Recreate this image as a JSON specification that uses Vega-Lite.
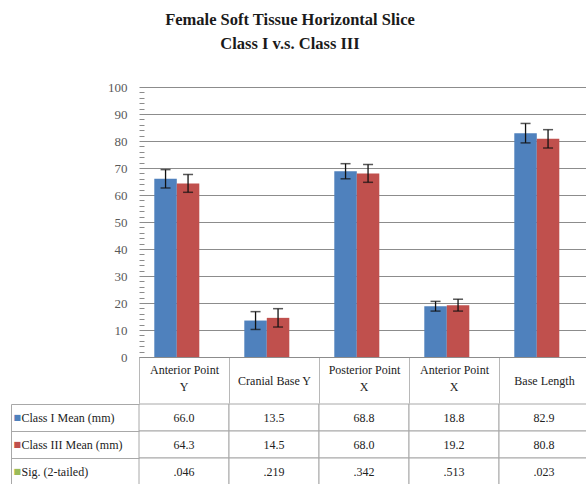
{
  "$schema": "https://vega.github.io/schema/vega-lite/v6.json",
  "background": "white",
  "padding": {"left": 10, "top": 11, "right": 0, "bottom": 0},
  "config": {"view": {"stroke": null}},
  "title": {
    "text": ["Female Soft Tissue Horizontal Slice", "Class I v.s. Class III"],
    "font": "Liberation Serif", "fontSize": 16.5, "fontWeight": "bold", "color": "#1a1a1a",
    "lineHeight": 24, "anchor": "middle", "dx": -10, "offset": 29
  },
  "datasets": {
    "bars": [
      {"measure": "Anterior Point Y", "group": "Class I Mean (mm)", "mean": 66.0, "lo": 62.6, "hi": 69.4},
      {"measure": "Anterior Point Y", "group": "Class III Mean (mm)", "mean": 64.3, "lo": 61.0, "hi": 67.6},
      {"measure": "Cranial Base Y", "group": "Class I Mean (mm)", "mean": 13.5, "lo": 10.2, "hi": 16.8},
      {"measure": "Cranial Base Y", "group": "Class III Mean (mm)", "mean": 14.5, "lo": 11.1, "hi": 17.9},
      {"measure": "Posterior Point X", "group": "Class I Mean (mm)", "mean": 68.8, "lo": 66.0, "hi": 71.6},
      {"measure": "Posterior Point X", "group": "Class III Mean (mm)", "mean": 68.0, "lo": 64.7, "hi": 71.3},
      {"measure": "Anterior Point X", "group": "Class I Mean (mm)", "mean": 18.8, "lo": 17.0, "hi": 20.6},
      {"measure": "Anterior Point X", "group": "Class III Mean (mm)", "mean": 19.2, "lo": 17.0, "hi": 21.4},
      {"measure": "Base Length", "group": "Class I Mean (mm)", "mean": 82.9, "lo": 79.3, "hi": 86.5},
      {"measure": "Base Length", "group": "Class III Mean (mm)", "mean": 80.8, "lo": 77.4, "hi": 84.2}
    ],
    "table": [
      {"measure": "Anterior Point Y", "row": "Class I Mean (mm)", "value": "66.0"},
      {"measure": "Cranial Base Y", "row": "Class I Mean (mm)", "value": "13.5"},
      {"measure": "Posterior Point X", "row": "Class I Mean (mm)", "value": "68.8"},
      {"measure": "Anterior Point X", "row": "Class I Mean (mm)", "value": "18.8"},
      {"measure": "Base Length", "row": "Class I Mean (mm)", "value": "82.9"},
      {"measure": "Anterior Point Y", "row": "Class III Mean (mm)", "value": "64.3"},
      {"measure": "Cranial Base Y", "row": "Class III Mean (mm)", "value": "14.5"},
      {"measure": "Posterior Point X", "row": "Class III Mean (mm)", "value": "68.0"},
      {"measure": "Anterior Point X", "row": "Class III Mean (mm)", "value": "19.2"},
      {"measure": "Base Length", "row": "Class III Mean (mm)", "value": "80.8"},
      {"measure": "Anterior Point Y", "row": "Sig. (2-tailed)", "value": ".046"},
      {"measure": "Cranial Base Y", "row": "Sig. (2-tailed)", "value": ".219"},
      {"measure": "Posterior Point X", "row": "Sig. (2-tailed)", "value": ".342"},
      {"measure": "Anterior Point X", "row": "Sig. (2-tailed)", "value": ".513"},
      {"measure": "Base Length", "row": "Sig. (2-tailed)", "value": ".023"}
    ]
  },
  "spacing": -7,
  "vconcat": [
    {
      "width": 450,
      "height": 270,
      "data": {"name": "bars"},
      "resolve": {"axis": {"y": "independent", "x": "independent"}},
      "encoding": {
        "xOffset": {
          "field": "group", "type": "nominal",
          "sort": ["Class I Mean (mm)", "Class III Mean (mm)"],
          "scale": {"paddingInner": 0, "paddingOuter": 1.25, "align": 0.34}
        }
      },
      "layer": [
        {
          "mark": {"type": "bar"},
          "encoding": {
            "x": {
              "field": "measure", "type": "nominal",
              "sort": ["Anterior Point Y", "Cranial Base Y", "Posterior Point X", "Anterior Point X", "Base Length"],
              "scale": {"paddingInner": 0, "paddingOuter": 0},
              "axis": {
                "orient": "bottom", "title": null, "domain": true, "domainColor": "#8c8c8c",
                "ticks": true, "tickBand": "extent", "tickSize": 46, "tickColor": "#b8b8b8",
                "labelAngle": 0, "labelFont": "Liberation Serif", "labelFontSize": 12, "labelColor": "#222222",
                "labelPadding": -23, "labelLineHeight": 20,
                "labelBaseline": {"condition": {"test": "datum.value === 'Anterior Point Y' || datum.value === 'Posterior Point X' || datum.value === 'Anterior Point X'", "value": "line-bottom"}, "value": "middle"},
                "labelExpr": "datum.value === 'Anterior Point Y' || datum.value === 'Anterior Point X' ? 'Anterior Point' : datum.value === 'Posterior Point X' ? 'Posterior Point' : datum.label"
              }
            },
            "y": {
              "field": "mean", "type": "quantitative",
              "scale": {"domain": [0, 100], "nice": false},
              "axis": {
                "orient": "left", "title": null, "minExtent": 128, "maxExtent": 128,
                "values": [0,10,20,30,40,50,60,70,80,90,100],
                "labelFont": "Liberation Serif", "labelFontSize": 13, "labelColor": "#595959",
                "labelPadding": 12,
                "domain": false,
                "grid": true, "gridColor": "#8c8c8c",
                "ticks": false
              }
            },
            "color": {
              "field": "group", "type": "nominal",
              "scale": {"domain": ["Class I Mean (mm)", "Class III Mean (mm)", "Sig. (2-tailed)"], "range": ["#4F81BD", "#C0504D", "#9BBB59"]},
              "legend": null
            }
          }
        },
        {
          "mark": {"type": "rule", "color": "#111111", "strokeWidth": 1.3},
          "encoding": {
            "x": {
              "field": "measure", "type": "nominal",
              "sort": ["Anterior Point Y", "Cranial Base Y", "Posterior Point X", "Anterior Point X", "Base Length"],
              "axis": {
                "orient": "bottom", "title": null, "domain": false, "ticks": false,
                "labelAngle": 0, "labelFont": "Liberation Serif", "labelFontSize": 12, "labelColor": "#222222",
                "labelPadding": 24, "labelBaseline": "top",
                "labelExpr": "datum.value === 'Anterior Point Y' ? 'Y' : (datum.value === 'Posterior Point X' || datum.value === 'Anterior Point X') ? 'X' : ''"
              }
            },
            "y": {
              "field": "lo", "type": "quantitative",
              "axis": {
                "orient": "left", "title": null, "minExtent": 0, "maxExtent": 0,
                "values": [2,4,6,8,12,14,16,18,22,24,26,28,32,34,36,38,42,44,46,48,52,54,56,58,62,64,66,68,72,74,76,78,82,84,86,88,92,94,96,98],
                "labels": false, "domain": false, "grid": false,
                "ticks": true, "tickSize": -5, "tickColor": "#8c8c8c"
              }
            },
            "y2": {"field": "hi"}
          }
        },
        {
          "mark": {"type": "tick", "color": "#111111", "size": 10, "thickness": 1.5},
          "encoding": {
            "x": {"field": "measure", "type": "nominal", "sort": ["Anterior Point Y", "Cranial Base Y", "Posterior Point X", "Anterior Point X", "Base Length"], "axis": null},
            "y": {"field": "lo", "type": "quantitative", "axis": null}
          }
        },
        {
          "mark": {"type": "tick", "color": "#111111", "size": 10, "thickness": 1.5},
          "encoding": {
            "x": {"field": "measure", "type": "nominal", "sort": ["Anterior Point Y", "Cranial Base Y", "Posterior Point X", "Anterior Point X", "Base Length"], "axis": null},
            "y": {"field": "hi", "type": "quantitative", "axis": null}
          }
        }
      ]
    },
    {
      "width": 450,
      "height": 81,
      "data": {"name": "table"},
      "resolve": {"axis": {"y": "independent"}},
      "encoding": {
        "x": {
          "field": "measure", "type": "nominal",
          "sort": ["Anterior Point Y", "Cranial Base Y", "Posterior Point X", "Anterior Point X", "Base Length"],
          "scale": {"paddingInner": 0, "paddingOuter": 0},
          "axis": null
        }
      },
      "layer": [
        {
          "mark": {"type": "rect", "fill": "white", "stroke": "#a8a8a8", "strokeWidth": 1},
          "encoding": {
            "y": {
              "field": "row", "type": "nominal",
              "sort": ["Class I Mean (mm)", "Class III Mean (mm)", "Sig. (2-tailed)"],
              "scale": {"paddingInner": 0, "paddingOuter": 0},
              "axis": {
                "orient": "left", "title": null, "domain": false, "grid": false,
                "ticks": true, "tickBand": "extent", "tickSize": 128, "tickColor": "#a8a8a8",
                "labelAlign": "left", "labelBaseline": "middle", "labelPadding": -10,
                "labelFont": "Liberation Serif", "labelFontSize": 12, "labelColor": "#222222",
                "minExtent": 128, "maxExtent": 128
              }
            }
          }
        },
        {
          "mark": {"type": "text", "font": "Liberation Serif", "fontSize": 12, "color": "#222222"},
          "encoding": {
            "y": {
              "field": "row", "type": "nominal",
              "sort": ["Class I Mean (mm)", "Class III Mean (mm)", "Sig. (2-tailed)"],
              "axis": {
                "orient": "left", "title": null, "grid": false, "ticks": false,
                "domain": true, "domainColor": "#a8a8a8", "offset": 128,
                "labelExpr": "'■'",
                "labelAlign": "left", "labelBaseline": "middle", "labelPadding": -2,
                "labelFont": "DejaVu Sans", "labelFontSize": 8,
                "labelColor": {"condition": [
                  {"test": "datum.value === 'Class I Mean (mm)'", "value": "#4F81BD"},
                  {"test": "datum.value === 'Class III Mean (mm)'", "value": "#C0504D"}
                ], "value": "#9BBB59"},
                "minExtent": 0, "maxExtent": 0
              }
            },
            "text": {"field": "value"}
          }
        }
      ]
    }
  ]
}
